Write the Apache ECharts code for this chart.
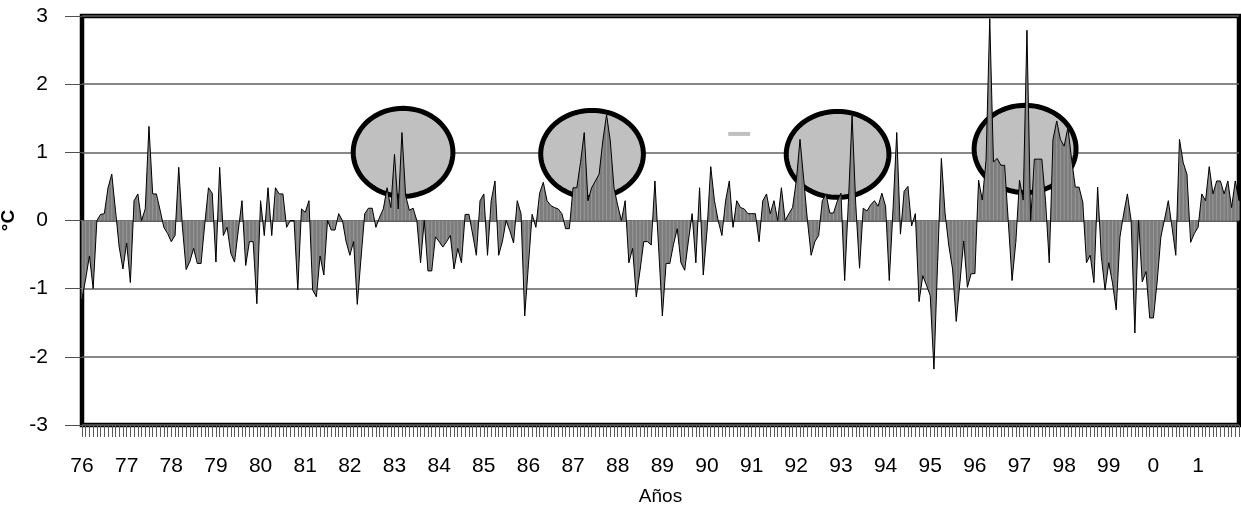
<!DOCTYPE html>
<html><head><meta charset="utf-8">
<script src="https://cdn.jsdelivr.net/npm/echarts@6/dist/echarts.min.js"></script>
<style>html,body{margin:0;padding:0;background:#fff}#c{width:1241px;height:505px}</style>
</head><body><div id="c"></div>
<script>
// Year tick labels (one per January)
const yearLabels = ['76','77','78','79','80','81','82','83','84','85','86','87','88','89','90','91','92','93','94','95','96','97','98','99','0','1'];

// Monthly temperature anomaly (°C), Jan 1976 .. Dec 2001
const anomalies = [
 -1.15,-0.85,-0.52,-1.00,0.00,0.09,0.10,0.48,0.68,0.15,-0.39,-0.71,
 -0.33,-0.91,0.29,0.39,0.00,0.17,1.38,0.39,0.39,0.15,-0.10,-0.19,
 -0.31,-0.22,0.78,-0.10,-0.72,-0.60,-0.41,-0.63,-0.63,-0.05,0.48,0.40,
 -0.61,0.78,-0.22,-0.10,-0.48,-0.61,-0.15,0.29,-0.66,-0.31,-0.31,-1.22,
 0.29,-0.22,0.48,-0.22,0.48,0.39,0.39,-0.10,0.00,0.00,-1.02,0.17,
 0.12,0.29,-1.02,-1.12,-0.52,-0.80,0.00,-0.14,-0.14,0.10,0.00,-0.31,
 -0.51,-0.31,-1.23,-0.55,0.10,0.18,0.18,-0.10,0.05,0.17,0.48,0.19,
 0.97,0.17,1.29,0.36,0.15,0.18,0.00,-0.62,0.00,-0.74,-0.74,-0.24,
 -0.31,-0.39,-0.31,-0.22,-0.71,-0.41,-0.62,0.09,0.09,-0.20,-0.51,0.29,
 0.39,-0.51,0.29,0.58,-0.51,-0.31,0.00,-0.15,-0.33,0.29,0.10,-1.40,
 -0.65,0.09,-0.10,0.40,0.56,0.29,0.22,0.19,0.17,0.10,-0.12,-0.12,
 0.48,0.48,0.85,1.29,0.29,0.48,0.58,0.68,1.17,1.55,1.17,0.48,
 0.22,0.00,0.29,-0.62,-0.41,-1.12,-0.73,-0.31,-0.31,-0.36,0.58,-0.40,
 -1.40,-0.63,-0.63,-0.35,-0.12,-0.62,-0.73,-0.30,0.10,-0.62,0.48,-0.80,
 -0.15,0.79,0.29,0.00,-0.22,0.29,0.58,-0.10,0.29,0.19,0.17,0.10,
 0.10,0.10,-0.31,0.29,0.39,0.10,0.29,0.00,0.48,0.00,0.10,0.19,
 0.58,1.19,0.60,0.00,-0.51,-0.31,-0.22,0.29,0.39,0.11,0.11,0.28,
 0.40,-0.88,0.26,1.54,0.21,-0.70,0.18,0.14,0.23,0.29,0.21,0.40,
 0.21,-0.88,0.16,1.29,-0.20,0.43,0.50,-0.08,0.10,-1.19,-0.81,-0.95,
 -1.10,-2.18,-0.60,0.91,0.10,-0.37,-0.71,-1.48,-0.90,-0.30,-0.98,-0.78,
 -0.78,0.59,0.30,0.88,2.96,0.86,0.91,0.81,0.81,-0.03,-0.88,-0.32,
 0.59,0.30,2.79,0.00,0.90,0.90,0.90,0.29,-0.62,1.19,1.46,1.19,
 1.09,1.36,0.90,0.49,0.49,0.27,-0.62,-0.51,-0.91,0.49,-0.53,-1.02,
 -0.62,-0.92,-1.31,-0.24,0.10,0.39,0.00,-1.65,0.00,-0.90,-0.75,-1.43,
 -1.43,-0.90,-0.24,0.02,0.29,-0.10,-0.51,1.19,0.85,0.68,-0.32,-0.19,
 -0.10,0.39,0.29,0.79,0.39,0.58,0.58,0.39,0.58,0.19,0.58,0.29
];

// Highlighted warm episodes: [centre month index, centre value, half-width (months), half-height (°C)]
const ellipses = [
 [86.3, 1.00, 13.4, 0.645],
 [137.1, 0.975, 13.8, 0.64],
 [203.1, 0.97, 13.8, 0.63],
 [253.5, 1.05, 13.7, 0.64]
];

// Small grey dash: [start month index, end month index, value]
const dash = [[173.7, 179.6, 1.27]];

const yMin = -3, yMax = 3, yStep = 1;

const categories = [];
yearLabels.forEach(y => { for (let m = 1; m <= 12; m++) categories.push(y + '-' + m); });

const FONT = "'Liberation Sans', Arial, sans-serif";
const chart = echarts.init(document.getElementById('c'), null, {renderer: 'canvas'});

chart.setOption({
  animation: false,
  grid: {left: 82, right: 2, top: 16, bottom: 80, containLabel: false, outerBoundsMode: 'none',
         show: true, borderColor: '#000', borderWidth: 4.5, backgroundColor: 'transparent'},
  xAxis: [{
    type: 'category', data: categories, boundaryGap: false,
    axisLine: {show: false, onZero: false},
    axisTick: {show: true, interval: 0, length: 12, lineStyle: {color: '#5a5a5a', width: 1}},
    axisLabel: {interval: (i) => i % 12 === 0, formatter: v => v.split('-')[0], fontSize: 21, margin: 31, color: '#000', fontFamily: FONT},
    splitLine: {show: false},
    name: 'Años', nameLocation: 'middle', nameGap: 62,
    nameTextStyle: {fontSize: 19, color: '#000', fontFamily: FONT}
  }, {
    type: 'value', min: 0, max: anomalies.length - 1, show: false
  }],
  yAxis: {
    type: 'value', min: yMin, max: yMax, interval: yStep,
    axisLine: {show: false},
    axisTick: {show: true, length: 17, lineStyle: {color: '#505050', width: 1}},
    axisLabel: {fontSize: 21, margin: 34, color: '#000', fontFamily: FONT},
    splitLine: {show: true, lineStyle: {color: ['#606060','#606060','#606060','#2a2a2a','#606060','#606060','#606060'], width: 1.5}},
    name: '°C', nameLocation: 'middle', nameRotate: 90, nameGap: 64,
    nameTextStyle: {fontSize: 19, fontWeight: 'bold', color: '#000', fontFamily: FONT}
  },
  series: [
    {
      type: 'custom', xAxisIndex: 1, z: 1, data: ellipses,
      encode: {x: 0, y: 1},
      renderItem: (params, api) => {
        const c = api.coord([api.value(0), api.value(1)]);
        const e = api.coord([api.value(0) + api.value(2), api.value(1) + api.value(3)]);
        const a = Math.abs(e[0] - c[0]), b = Math.abs(e[1] - c[1]);
        const pts = [];
        for (let k = 0; k < 96; k++) { const t = k / 96 * Math.PI * 2; pts.push([c[0] + a * Math.cos(t), c[1] + b * Math.sin(t)]); }
        return {type: 'polygon', shape: {points: pts}, style: {fill: '#c0c0c0', stroke: '#000', lineWidth: 5}};
      }
    },
    {
      type: 'line', data: anomalies, z: 2, symbol: 'none',
      lineStyle: {width: 0, opacity: 0},
      areaStyle: {color: '#7c7c7c', opacity: 1}
    },
    {
      type: 'bar', data: anomalies, z: 3, barWidth: 1,
      itemStyle: {color: '#9a9a9a'}
    },
    {
      type: 'line', data: anomalies, z: 4, symbol: 'none',
      lineStyle: {color: '#000', width: 1}
    },
    {
      type: 'custom', xAxisIndex: 1, z: 5, data: dash,
      encode: {x: [0, 1], y: 2},
      renderItem: (params, api) => {
        const p0 = api.coord([api.value(0), api.value(2)]);
        const p1 = api.coord([api.value(1), api.value(2)]);
        return {type: 'rect', shape: {x: p0[0], y: p0[1] - 2, width: p1[0] - p0[0], height: 4}, style: {fill: '#c0c0c0'}};
      }
    }
  ]
});
</script>
</body></html>
